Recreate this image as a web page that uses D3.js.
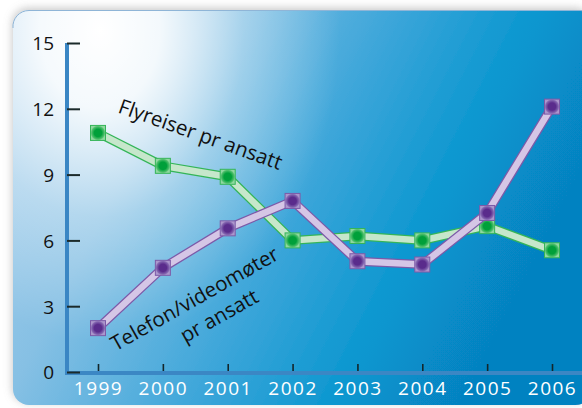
<!DOCTYPE html>
<html>
<head>
<meta charset="utf-8">
<script src="https://cdn.jsdelivr.net/npm/d3@7"></script>
<style>
html,body{margin:0;padding:0;background:#fff;}
svg{display:block;}
text{font-family:"Open Sans","Noto Sans",sans-serif;}
</style>
</head>
<body>
<script>
const years = ["1999","2000","2001","2002","2003","2004","2005","2006"];
const flyreiser = [10.9, 9.4, 8.9, 6.0, 6.2, 6.0, 6.65, 5.55];
const telefon = [2.0, 4.75, 6.55, 7.8, 5.05, 4.9, 7.25, 12.1];
const yTicks = [0, 3, 6, 9, 12, 15];
const labelFly = "Flyreiser pr ansatt";
const labelTel = ["Telefon/videomøter", "pr ansatt"];

const W = 582, H = 408;
const svg = d3.select("body").append("svg").attr("width", W).attr("height", H);
const defs = svg.append("defs");

// background gradients
const lg = defs.append("linearGradient").attr("id","bg").attr("x1","0").attr("y1","0").attr("x2","1").attr("y2","0.35");
[[0,"#a9d0ec"],[0.3,"#86c0e4"],[0.6,"#3aa5d9"],[0.82,"#0896cf"],[1,"#0682c1"]].forEach(s=>lg.append("stop").attr("offset",s[0]).attr("stop-color",s[1]));
const rg = defs.append("radialGradient").attr("id","hl").attr("gradientUnits","userSpaceOnUse")
  .attr("cx",100).attr("cy",30).attr("r",240).attr("gradientTransform","translate(100,30) scale(1,1.3) translate(-100,-30)");
[[0,"#ffffff",1],[0.25,"#ffffff",0.9],[0.6,"#ffffff",0.35],[1,"#ffffff",0]].forEach(s=>rg.append("stop").attr("offset",s[0]).attr("stop-color",s[1]).attr("stop-opacity",s[2]));

const f = defs.append("filter").attr("id","sh").attr("x","-10%").attr("y","-10%").attr("width","120%").attr("height","120%");
f.append("feDropShadow").attr("dx",-1).attr("dy",-2).attr("stdDeviation",4).attr("flood-color","#888").attr("flood-opacity",0.45);

// marker gradients
function mg(id, c0, c1, c2){
  const g = defs.append("radialGradient").attr("id",id);
  g.append("stop").attr("offset",0).attr("stop-color",c0);
  g.append("stop").attr("offset",0.5).attr("stop-color",c0);
  g.append("stop").attr("offset",0.85).attr("stop-color",c1);
  g.append("stop").attr("offset",1).attr("stop-color",c2);
}
mg("mgG","#00a03a","#4fbf6c","#90d8a0");
mg("mgP","#5a2c8c","#8466b0","#ac96cc");

svg.append("rect").attr("x",13).attr("y",10).attr("width",W-13+10).attr("height",395).attr("rx",16)
  .attr("fill","url(#bg)").attr("filter","url(#sh)");
svg.append("rect").attr("x",13).attr("y",10).attr("width",W-13+10).attr("height",395).attr("rx",16)
  .attr("fill","url(#hl)");
svg.append("path").attr("d","M13,28 A16,16 0 0 1 29,10.5 L"+(W)+",10.5").attr("fill","none").attr("stroke","#8fb5d7").attr("stroke-width",1);

const x = d3.scalePoint().domain(years).range([98, 552]);
const y = d3.scaleLinear().domain([0, 15]).range([372, 43]);

// axes lines
svg.append("line").attr("x1",65).attr("x2",W).attr("y1",y(0)+1).attr("y2",y(0)+1)
  .attr("stroke","#3b87c4").attr("stroke-width",4);
svg.append("line").attr("x1",67).attr("x2",67).attr("y1",y(15)).attr("y2",y(0)+3)
  .attr("stroke","#3a86c4").attr("stroke-width",4);

const ya = svg.append("g").attr("transform","translate(67,0)")
  .call(d3.axisLeft(y).tickValues(yTicks).tickSize(-13).tickSizeOuter(0).tickPadding(13).tickFormat(d3.format("d")));
ya.select(".domain").remove();
ya.selectAll(".tick line").attr("stroke","#1b2a2a").attr("stroke-width",2);
ya.selectAll(".tick text").attr("fill","#111").style("font-size","19px").attr("dy","0.36em");

const xa = svg.append("g").attr("transform","translate(0,"+(y(0)-1)+")")
  .call(d3.axisBottom(x).tickSize(-7).tickSizeOuter(0).tickPadding(11));
xa.select(".domain").remove();
xa.selectAll(".tick line").attr("stroke","#13262a").attr("stroke-width",1.6);
xa.selectAll(".tick text").attr("fill","#fff").style("font-size","19px").style("letter-spacing","1.5px");

const line = d3.line().x((d,i)=>x(years[i])).y(d=>y(d));

function series(vals, edge, inner, grad){
  svg.append("path").attr("d",line(vals)).attr("fill","none").attr("stroke",edge).attr("stroke-width",9).attr("stroke-linejoin","miter");
  svg.append("path").attr("d",line(vals)).attr("fill","none").attr("stroke",inner).attr("stroke-width",6.5).attr("stroke-linejoin","miter");
  svg.append("g").selectAll("rect").data(vals).join("rect")
    .attr("x",(d,i)=>x(years[i])-7.5).attr("y",d=>y(d)-7.5).attr("width",15).attr("height",15)
    .attr("fill","url(#"+grad+")").attr("stroke",edge).attr("stroke-width",1);
}
series(flyreiser, "#34b558", "#c6e7cb", "mgG");
series(telefon, "#7c5aa8", "#d5c6e6", "mgP");

// labels
svg.append("text").attr("transform","translate(198,141) rotate(19.6)")
  .attr("text-anchor","middle").attr("fill","#111").style("font-size","20.5px").text(labelFly);
const tg = svg.append("g").attr("transform","translate(198,305) rotate(-29.5)");
tg.append("text").attr("text-anchor","middle").attr("fill","#111").style("font-size","20.5px").text(labelTel[0]);
tg.append("text").attr("x",13).attr("y",27).attr("text-anchor","middle").attr("fill","#111").style("font-size","20.5px").text(labelTel[1]);
</script>
</body>
</html>
